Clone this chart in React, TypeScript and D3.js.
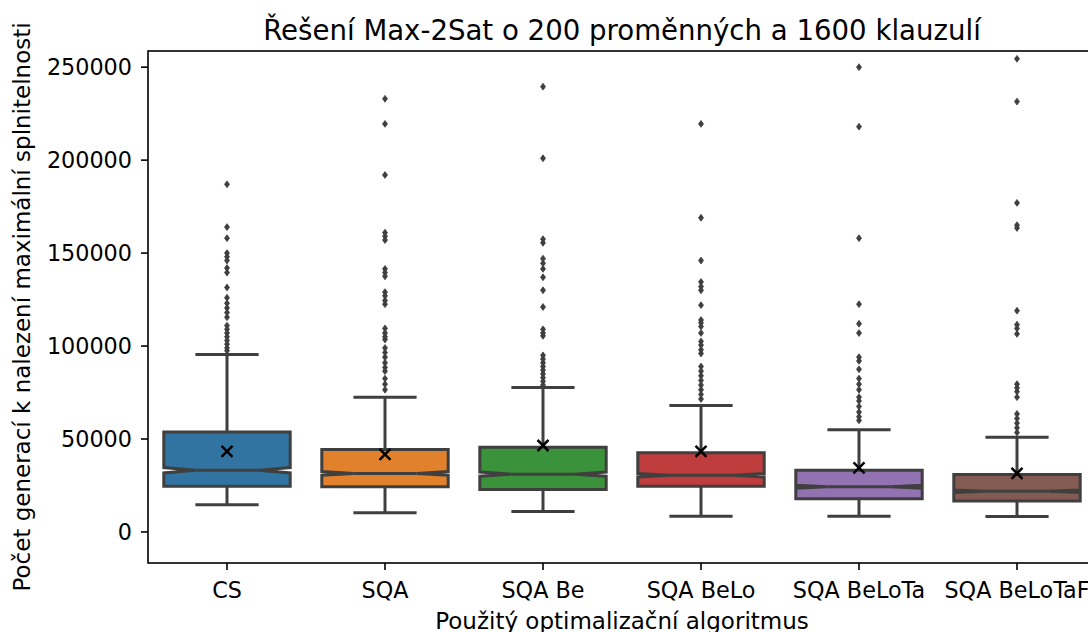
import React from 'react';
import * as d3 from 'd3';

// Algorithms compared
const categories = ['CS', 'SQA', 'SQA Be', 'SQA BeLo', 'SQA BeLoTa', 'SQA BeLoTaF'];

// Box statistics (generations until maximal satisfiability was reached)
const q1Values = [24600, 24300, 22900, 24600, 17900, 16600];
const medianValues = [33200, 31500, 31100, 30500, 24300, 21900];
const q3Values = [53700, 44400, 45600, 42600, 33200, 30900];
const whiskerLowValues = [14600, 10300, 11000, 8500, 8500, 8300];
const whiskerHighValues = [95500, 72500, 77700, 68000, 55000, 51000];
const meanValues = [43400, 41700, 46500, 43400, 34500, 31500];
const runsPerAlgorithm = 1000;

// Outlying runs per algorithm
const outliersCS = [187000, 164000, 158000, 150000, 148000, 146000, 142000, 139500, 131500, 126000, 123000, 120500, 118000, 115500, 111000, 109000, 107000, 105000, 103000, 101000, 99000, 97500];
const outliersSQA = [233000, 219500, 192000, 161000, 159000, 157000, 141500, 139500, 137500, 129000, 127000, 124500, 122500, 109500, 107000, 105000, 103500, 99000, 96500, 94000, 91000, 88500, 86500, 82500, 79500, 76500];
const outliersSQABe = [239500, 201000, 157500, 155500, 147000, 144500, 141500, 137000, 130000, 121000, 109000, 107000, 105500, 95000, 93000, 91000, 89000, 87000, 85000, 83000, 81000, 79000];
const outliersSQABeLo = [219500, 169000, 146000, 134500, 132000, 130000, 122000, 114000, 112500, 110500, 107000, 102500, 100500, 98000, 96000, 89000, 86500, 84000, 81500, 79000, 76500, 74000, 71500];
const outliersSQABeLoTa = [250000, 218000, 158000, 122500, 112000, 107000, 94000, 92000, 87500, 82500, 79500, 76500, 72500, 70500, 67500, 64500, 62000, 60000];
const outliersSQABeLoTaF = [254500, 231500, 177000, 165000, 163500, 119000, 111500, 109500, 106500, 79500, 77500, 75500, 72500, 63500, 61000, 58500, 56000, 53500];
const outlierSets = [outliersCS, outliersSQA, outliersSQABe, outliersSQABeLo, outliersSQABeLoTa, outliersSQABeLoTaF];

const yTicks = [0, 50000, 100000, 150000, 200000, 250000];
const boxColors = ['#3274a1', '#e1812c', '#3a923a', '#c03d3e', '#9372b2', '#845b53'];

const W = 1088;
const H = 632;
const plotLeft = 148;
const plotRight = 1096;
const plotTop = 51;
const plotBottom = 563;
const lineColor = '#3f3f3f';
const font = 'DejaVu Sans, sans-serif';
const tickFont = 22.3;
const labelFont = 23;
const titleFont = 27.6;

export default function App() {
  const x = d3.scaleBand<string>().domain(categories).range([plotLeft, plotRight]).padding(0);
  const y = d3.scaleLinear().domain([-16700, 258700]).range([plotBottom, plotTop]);
  const bw = x.bandwidth() * 0.8;

  const boxes = categories.map((c, i) => {
    const cx = (x(c) as number) + x.bandwidth() / 2;
    const q1 = q1Values[i];
    const q3 = q3Values[i];
    const med = medianValues[i];
    const iqr = q3 - q1;
    const notch = (1.57 * iqr) / Math.sqrt(runsPerAlgorithm);
    const left = cx - bw / 2;
    const right = cx + bw / 2;
    const capL = cx - bw * 0.25;
    const capR = cx + bw * 0.25;
    const pts: [number, number][] = [
      [left, y(q1)], [right, y(q1)], [right, y(med - notch)], [capR, y(med)],
      [right, y(med + notch)], [right, y(q3)], [left, y(q3)], [left, y(med + notch)],
      [capL, y(med)], [left, y(med - notch)],
    ];
    const path = d3.line()(pts) + 'Z';
    return { c, i, cx, path, capL, capR, med };
  });

  const diamond = (cx: number, cy: number) =>
    `M${cx},${cy - 3.4}L${cx + 2.5},${cy}L${cx},${cy + 3.4}L${cx - 2.5},${cy}Z`;

  return (
    <svg width={W} height={H} style={{ position: 'absolute', left: 0, top: 0, background: '#fff' }} fontFamily={font}>
      <rect x={0} y={0} width={W} height={H} fill="#fff" />
      {boxes.map((b) => {
        const i = b.i;
        const capHalf = bw / 4;
        return (
          <g key={b.c}>
            {/* whiskers */}
            <line x1={b.cx} x2={b.cx} y1={y(q3Values[i])} y2={y(whiskerHighValues[i])} stroke={lineColor} strokeWidth={3} />
            <line x1={b.cx} x2={b.cx} y1={y(q1Values[i])} y2={y(whiskerLowValues[i])} stroke={lineColor} strokeWidth={3} />
            <line x1={b.cx - capHalf} x2={b.cx + capHalf} y1={y(whiskerHighValues[i])} y2={y(whiskerHighValues[i])} stroke={lineColor} strokeWidth={3} />
            <line x1={b.cx - capHalf} x2={b.cx + capHalf} y1={y(whiskerLowValues[i])} y2={y(whiskerLowValues[i])} stroke={lineColor} strokeWidth={3} />
            {/* notched box */}
            <path d={b.path} fill={boxColors[i]} stroke={lineColor} strokeWidth={3} strokeLinejoin="miter" />
            <line x1={b.capL} x2={b.capR} y1={y(b.med)} y2={y(b.med)} stroke={lineColor} strokeWidth={3} />
            {/* outliers */}
            {outlierSets[i].map((v, k) => (
              <path key={k} d={diamond(b.cx, y(v))} fill={lineColor} stroke={lineColor} strokeWidth={0.8} />
            ))}
            {/* mean */}
            <g transform={`translate(${b.cx},${y(meanValues[i])})`} stroke="#000" strokeWidth={2.5}>
              <line x1={-5.5} y1={-5.5} x2={5.5} y2={5.5} />
              <line x1={-5.5} y1={5.5} x2={5.5} y2={-5.5} />
            </g>
          </g>
        );
      })}

      {/* frame */}
      <rect x={plotLeft} y={plotTop} width={plotRight - plotLeft} height={plotBottom - plotTop} fill="none" stroke="#000" strokeWidth={1.6} />

      {/* y axis */}
      {yTicks.map((t) => (
        <g key={t}>
          <line x1={plotLeft - 7} x2={plotLeft} y1={y(t)} y2={y(t)} stroke="#000" strokeWidth={1.6} />
          <text x={plotLeft - 16} y={y(t)} dy="0.36em" textAnchor="end" fontSize={tickFont} fill="#000">{t}</text>
        </g>
      ))}

      {/* x axis */}
      {categories.map((c) => {
        const cx = (x(c) as number) + x.bandwidth() / 2;
        return (
          <g key={c}>
            <line x1={cx} x2={cx} y1={plotBottom} y2={plotBottom + 7} stroke="#000" strokeWidth={1.6} />
            <text x={cx} y={plotBottom + 35} textAnchor="middle" fontSize={tickFont} fill="#000">{c}</text>
          </g>
        );
      })}

      <text x={(plotLeft + plotRight) / 2} y={plotBottom + 66} textAnchor="middle" fontSize={labelFont} fill="#000">Použitý optimalizační algoritmus</text>
      <text transform={`translate(30,${(plotTop + plotBottom) / 2}) rotate(-90)`} textAnchor="middle" fontSize={labelFont} fill="#000">Počet generací k nalezení maximální splnitelnosti</text>
      <text x={(plotLeft + plotRight) / 2} y={40} textAnchor="middle" fontSize={titleFont} fill="#000">Řešení Max-2Sat o 200 proměnných a 1600 klauzulí</text>
    </svg>
  );
}
